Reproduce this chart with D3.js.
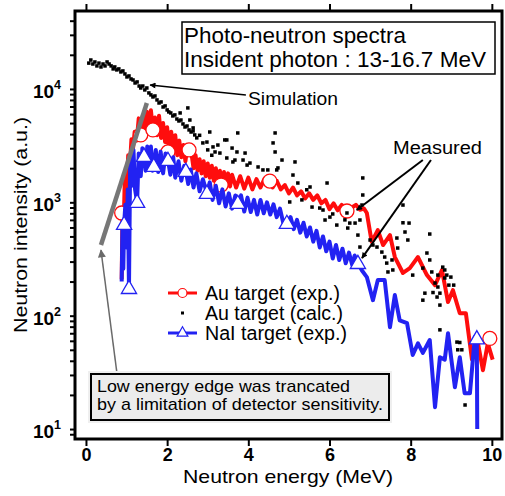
<!DOCTYPE html>
<html>
<head>
<meta charset="utf-8">
<script src="https://cdn.jsdelivr.net/npm/d3@7"></script>
<style>
  body { margin: 0; background: #fff; }
  svg { font-family: "Liberation Sans", Arial, Helvetica, sans-serif; }
</style>
</head>
<body>
<div id="chart"></div>
<script>
// values (energy in MeV, intensity in a.u.)
var auExpE = [0.88, 0.90, 0.93, 0.96, 1.00, 1.04, 1.08, 1.12, 1.16, 1.20, 1.25, 1.30, 1.35, 1.40, 1.45, 1.50, 1.55, 1.60, 1.65, 1.70,
  1.75, 1.80, 1.85, 1.90, 1.95, 2.00, 2.05, 2.10, 2.15, 2.20, 2.25, 2.30, 2.35, 2.40, 2.45, 2.50, 2.55, 2.60, 2.65, 2.70,
  2.75, 2.80, 2.85, 2.90, 2.95, 3.00, 3.05, 3.10, 3.15, 3.20, 3.25, 3.30, 3.35, 3.40, 3.45, 3.50, 3.55, 3.60, 3.70, 3.80,
  3.90, 4.00, 4.10, 4.20, 4.30, 4.40, 4.53, 4.60, 4.70, 4.80, 4.90, 5.00, 5.10, 5.20, 5.30, 5.40, 5.50, 5.60, 5.70, 5.80,
  5.90, 6.00, 6.10, 6.20, 6.30, 6.43, 6.55, 6.65, 6.75, 6.85, 6.92, 7.04, 7.19, 7.32, 7.49, 7.61, 7.81, 7.98, 8.18, 8.40,
  8.60, 8.77, 8.92, 9.04, 9.21, 9.36, 9.51, 9.63, 9.78, 9.90, 10.02];
var auExpV = [210, 800, 650, 1800, 1300, 2600, 2000, 3600, 3000, 4200, 3500, 5500, 3900, 5800, 4300, 6300, 4400, 6500, 4350, 5600,
  3900, 5800, 3700, 5000, 3400, 4600, 2800, 4200, 3000, 3900, 2600, 3500, 2500, 3200, 2300, 3100, 2900, 2700, 2000, 2600,
  1900, 2400, 1800, 2300, 1700, 2200, 1650, 2100, 1550, 2000, 1500, 1900, 1420, 1850, 1400, 1800, 1380, 1750, 1350, 1700,
  1320, 1650, 1300, 1600, 1350, 1620, 1540, 1350, 1550, 1300, 1420, 1200, 1350, 1150, 1250, 1080, 1200, 1050, 1150, 980,
  1050, 870, 980, 850, 950, 840, 900, 950, 860, 880, 805, 447, 569, 420, 514, 329, 238, 263, 329, 228,
  186, 253, 132, 168, 105, 105, 41, 65, 33, 57, 41];

var auMarkE = [0.88, 1.35, 1.65, 2.02, 2.54, 3.33, 4.53, 6.43, 9.95];
var auMarkV = [805, 3930, 4350, 2780, 2900, 1420, 1540, 838, 63];

var naiExpE = [0.88, 0.90, 0.92, 0.94, 0.97, 1.00, 1.03, 1.06, 1.09, 1.13, 1.17, 1.21, 1.26, 1.30, 1.35, 1.39, 1.43, 1.47, 1.51, 1.55,
  1.60, 1.64, 1.67, 1.72, 1.78, 1.84, 1.90, 1.96, 2.02, 2.08, 2.15, 2.20, 2.28, 2.35, 2.42, 2.46, 2.52, 2.58, 2.65, 2.72,
  2.80, 2.88, 2.98, 3.05, 3.12, 3.20, 3.28, 3.36, 3.44, 3.52, 3.60, 3.68, 3.74, 3.82, 3.90, 3.98, 4.06, 4.14, 4.22, 4.30,
  4.38, 4.46, 4.54, 4.62, 4.70, 4.78, 4.86, 4.95, 5.04, 5.12, 5.20, 5.28, 5.36, 5.44, 5.52, 5.60, 5.68, 5.76, 5.84, 5.92,
  6.00, 6.08, 6.16, 6.24, 6.32, 6.40, 6.48, 6.56, 6.62, 6.70, 6.80, 6.92, 7.07, 7.19, 7.36, 7.49, 7.61, 7.73, 7.91, 8.05,
  8.18, 8.30, 8.47, 8.60, 8.72, 8.84, 8.92, 9.09, 9.21, 9.33, 9.46, 9.58, 9.63, 9.64];
var naiExpV = [200, 640, 260, 643, 950, 400, 1300, 175, 2500, 1400, 2900, 1300, 1000, 2700, 1700, 3000, 2565, 1900, 3100, 2000,
  3100, 1900, 2090, 2900, 1850, 2800, 1800, 2700, 2360, 1750, 2500, 1650, 2300, 1550, 2100, 1890, 1450, 1950, 1350, 1800,
  1250, 1600, 1208, 1500, 1050, 1400, 980, 1300, 920, 1200, 880, 1150, 986, 1150, 830, 1100, 820, 1050, 780, 1050,
  800, 1000, 780, 960, 740, 880, 660, 656, 740, 580, 700, 540, 660, 500, 600, 450, 560, 400, 500, 370,
  450, 320, 420, 310, 390, 290, 360, 280, 340, 291, 250, 219, 137, 206, 206, 79, 152, 91, 86, 45,
  57, 47, 61, 15.6, 43, 41, 70, 23.4, 43, 20.7, 20.7, 65, 63, 10];

var naiMarkE = [0.94, 1.06, 1.26, 1.43, 1.67, 2.02, 2.46, 2.98, 3.74, 4.95, 6.70, 9.63];
var naiMarkV = [643, 175, 1007, 2565, 2090, 2360, 1890, 1208, 986, 656, 291, 63];

var auCalcE = [0.07, 0.12, 0.17, 0.22, 0.27, 0.32, 0.37, 0.42, 0.47, 0.52, 0.57, 0.62, 0.67, 0.71, 0.76, 0.81, 0.86, 0.91, 0.96, 1.01,
  1.06, 1.11, 1.16, 1.21, 1.26, 1.31, 1.35, 1.40, 1.45, 1.50, 1.55, 1.60, 1.65, 1.70, 1.75, 1.80, 1.85, 1.90, 1.95, 2.00,
  2.04, 2.09, 2.14, 2.19, 2.24, 2.29, 2.34, 2.39, 2.44, 2.49, 2.54, 2.59, 2.64, 2.68, 2.73, 2.88, 2.98, 3.00, 3.13, 3.18,
  3.30, 3.42, 3.47, 3.60, 3.62, 3.67, 3.72, 3.87, 3.92, 3.97, 4.04, 4.24, 4.36, 4.48, 4.70, 4.73, 4.83, 5.10, 5.15, 5.22,
  5.44, 5.52, 5.94, 5.02, 5.32, 5.57, 5.76, 5.84, 5.89, 6.01, 6.08, 6.18, 6.38, 6.43, 6.45, 6.50, 6.63, 6.70, 6.75, 6.75,
  6.80, 6.82, 6.82, 7.00, 7.07, 7.17, 7.29, 7.36, 7.41, 7.44, 7.54, 7.56, 7.66, 7.68, 7.81, 7.81, 7.86, 7.93, 7.96, 8.05,
  8.30, 8.30, 8.35, 8.40, 8.47, 8.47, 8.52, 8.55, 8.60, 8.65, 8.67, 8.67, 8.72, 8.72, 8.72, 8.79, 8.84, 8.84, 8.89, 8.94,
  8.99, 9.06, 9.14, 9.16, 9.21, 9.26, 9.34, 2.51, 3.05, 3.74, 4.66, 4.61, 4.66, 3.47, 2.56, 2.64, 2.32, 2.80, 3.10, 3.25];
var auCalcV = [16900, 18000, 16600, 17300, 15960, 16900, 15630, 16600, 15960, 17300, 16600, 15960, 15020, 15630, 14720, 15020, 14130, 14420, 13560, 12760,
  13020, 12250, 12000, 11290, 11530, 10610, 10200, 10610, 9800, 10200, 9220, 8860, 8500, 8670, 8000, 7520, 7680, 6930, 7080, 6530,
  6270, 6140, 5780, 5900, 5430, 5220, 5320, 4910, 4620, 4710, 4350, 4170, 4260, 3930, 3700, 3340, 3400, 2900, 3080, 2780,
  2720, 3550, 2460, 3010, 2270, 2360, 2780, 2360, 2720, 2130, 2220, 2050, 1930, 1930, 1930, 2010, 2360, 1740, 2270, 1480,
  1290, 1365, 1480, 1007, 1050, 908, 890, 855, 698, 741, 789, 630, 700, 805, 593, 656, 656, 514, 403, 698,
  946, 1640, 1160, 465, 420, 403, 364, 329, 291, 243, 310, 253, 484, 395, 946, 660, 547, 465, 656, 228,
  263, 137, 158, 357, 525, 310, 243, 160, 194, 146, 228, 179, 158, 124, 75, 268, 253, 215, 228, 186,
  219, 186, 58.5, 50, 58, 50, 16.3, 6800, 4170, 4090, 4090, 3340, 2780, 3550, 5320, 4530, 6140, 3900, 2600, 3200];

var xTicks = [0, 2, 4, 6, 8, 10];
var yDecades = [1, 2, 3, 4];
var legendLabels = ["Au target (exp.)", "Au target (calc.)", "NaI target (exp.)"];
var infoLines = ["Photo-neutron spectra", "Insident photon : 13-16.7 MeV"];
var noteLines = ["Low energy edge was trancated", "by a limitation of detector sensitivity."];

var W = 505, H = 496;
var margin = {top: 11, right: 3, bottom: 57, left: 75},
    width = W - margin.left - margin.right,
    height = H - margin.top - margin.bottom;

var red = "#ff0d0d", blue = "#2222f2";

var svg = d3.select("#chart").append("svg")
    .attr("width", W)
    .attr("height", H);

var g = svg.append("g")
    .attr("transform", "translate(" + margin.left + "," + margin.top + ")");

var x = d3.scaleLinear().domain([-0.27, 10.25]).range([0, width]);
var y = d3.scaleLog().domain([8.17, 48700]).range([height, 0]);

function pts(es, vs) {
    return es.map(function(e, i) { return [e, vs[i]]; });
}

var line = d3.line()
    .x(function(d) { return x(d[0]); })
    .y(function(d) { return y(d[1]); });

// text squeezed/stretched to the width it has in the picture
function fit(sel, len) {
    sel.attr("textLength", len).attr("lengthAdjust", "spacingAndGlyphs");
    return sel;
}

// axes
var minor = [];
[1, 10, 100, 1000, 10000].forEach(function(b) {
    for (var k = 1; k < 10; k++) {
        var v = b * k;
        if (v >= y.domain()[0] && v <= y.domain()[1]) minor.push(v);
    }
});

var yAxis = g.append("g")
    .call(d3.axisLeft(y).tickValues(minor).tickSize(5).tickFormat(""));
yAxis.select(".domain").remove();
yAxis.selectAll("line").attr("stroke-width", 2);

var xAxis = g.append("g")
    .attr("transform", "translate(0," + height + ")")
    .call(d3.axisBottom(x).tickValues(xTicks).tickSize(7).tickPadding(2));
xAxis.select(".domain").remove();
xAxis.selectAll("line").attr("stroke-width", 2);
xAxis.selectAll("text")
    .attr("font-size", 18)
    .attr("font-weight", "bold")
    .attr("fill", "#000");

var xTop = g.append("g")
    .call(d3.axisTop(x).tickValues(xTicks).tickSize(7).tickFormat(""));
xTop.select(".domain").remove();
xTop.selectAll("line").attr("stroke-width", 2);

var yLab = g.append("g").selectAll("text")
    .data(yDecades)
    .enter().append("text")
    .attr("x", -14)
    .attr("y", function(d) { return y(Math.pow(10, d)) + 9; })
    .attr("text-anchor", "end")
    .attr("font-size", 19)
    .attr("font-weight", "bold");
yLab.append("tspan").text("10");
yLab.append("tspan")
    .attr("dy", -9)
    .attr("font-size", 12.5)
    .text(function(d) { return d; });

fit(g.append("text")
    .attr("x", 108)
    .attr("y", height + 44)
    .attr("font-size", 19)
    .text("Neutron energy (MeV)"), 210);

fit(g.append("text")
    .attr("transform", "translate(-48," + (height / 2 + 108) + ") rotate(-90)")
    .attr("font-size", 19)
    .text("Neutron intensity (a.u.)"), 216);

// series
g.append("path")
    .datum(pts(auExpE, auExpV))
    .attr("d", line)
    .attr("fill", "none")
    .attr("stroke", red)
    .attr("stroke-width", 4)
    .attr("stroke-linejoin", "round");

g.selectAll("circle.au")
    .data(pts(auMarkE, auMarkV))
    .enter().append("circle")
    .attr("class", "au")
    .attr("cx", function(d) { return x(d[0]); })
    .attr("cy", function(d) { return y(d[1]); })
    .attr("r", 7)
    .attr("fill", "#fff")
    .attr("stroke", red)
    .attr("stroke-width", 1.3);

g.append("path")
    .datum(pts(naiExpE, naiExpV))
    .attr("d", line)
    .attr("fill", "none")
    .attr("stroke", blue)
    .attr("stroke-width", 4)
    .attr("stroke-linejoin", "round");

var tri = d3.symbol().type(d3.symbolTriangle).size(100);

g.selectAll("path.nai")
    .data(pts(naiMarkE, naiMarkV))
    .enter().append("path")
    .attr("class", "nai")
    .attr("d", tri)
    .attr("transform", function(d) { return "translate(" + x(d[0]) + "," + (y(d[1]) + 1) + ")"; })
    .attr("fill", "#fff")
    .attr("stroke", blue)
    .attr("stroke-width", 1.3);

g.selectAll("rect.calc")
    .data(pts(auCalcE, auCalcV))
    .enter().append("rect")
    .attr("class", "calc")
    .attr("x", function(d) { return x(d[0]) - 1.75; })
    .attr("y", function(d) { return y(d[1]) - 1.75; })
    .attr("width", 3.5)
    .attr("height", 3.5)
    .attr("fill", "#000");

// frame
g.append("rect")
    .attr("width", width)
    .attr("height", height)
    .attr("fill", "none")
    .attr("stroke", "#000")
    .attr("stroke-width", 3);

// annotations
var defs = svg.append("defs");
function head(id, color, w, h) {
    defs.append("marker")
        .attr("id", id)
        .attr("viewBox", "0 0 10 10")
        .attr("refX", 9).attr("refY", 5)
        .attr("markerUnits", "userSpaceOnUse")
        .attr("markerWidth", w).attr("markerHeight", h)
        .attr("orient", "auto")
        .append("path")
        .attr("d", "M0,0L10,5L0,10z")
        .attr("fill", color);
}
head("ahBlack", "#000", 9, 6);
head("ahGray", "#6a6a6a", 14, 8);

function arrow(e0, v0, e1, v1, color, sw, mk) {
    g.append("line")
        .attr("x1", x(e0)).attr("y1", y(v0))
        .attr("x2", x(e1)).attr("y2", y(v1))
        .attr("stroke", color)
        .attr("stroke-width", sw)
        .attr("marker-end", mk ? "url(#" + mk + ")" : null);
}

// Simulation
arrow(3.94, 8860, 1.58, 10840, "#000", 1.5, "ahBlack");
fit(g.append("text").attr("x", 173).attr("y", 94).attr("font-size", 18).text("Simulation"), 90);

// Measured
arrow(8.30, 2360, 6.67, 855, "#000", 2, "ahBlack");
arrow(8.50, 2360, 6.80, 322, "#000", 2, "ahBlack");
fit(g.append("text").attr("x", 318).attr("y", 143).attr("font-size", 18).text("Measured"), 89);

// gray edge line and note
arrow(1.50, 7520, 0.37, 420, "#777", 4.5, null);
arrow(0.76, 31.8, 0.37, 379, "#6a6a6a", 1.5, "ahGray");

g.append("rect")
    .attr("x", 13).attr("y", 360)
    .attr("width", 304).attr("height", 52)
    .attr("fill", "#efefef");
g.append("rect")
    .attr("x", 16).attr("y", 363)
    .attr("width", 298).attr("height", 46)
    .attr("fill", "#ececec")
    .attr("stroke", "#000")
    .attr("stroke-width", 2);
var noteLen = [253, 286];
g.selectAll("text.note")
    .data(noteLines)
    .enter().append("text")
    .attr("class", "note")
    .attr("x", 22)
    .attr("y", function(d, i) { return 381 + i * 18; })
    .attr("font-size", 17)
    .attr("textLength", function(d, i) { return noteLen[i]; })
    .attr("lengthAdjust", "spacingAndGlyphs")
    .text(function(d) { return d; });

// info box
g.append("rect")
    .attr("x", 107).attr("y", 11)
    .attr("width", 313).attr("height", 52)
    .attr("fill", "#fff")
    .attr("stroke", "#000")
    .attr("stroke-width", 1.5);
var infoLen = [222, 302];
g.selectAll("text.info")
    .data(infoLines)
    .enter().append("text")
    .attr("class", "info")
    .attr("x", 109)
    .attr("y", function(d, i) { return 32 + i * 24; })
    .attr("font-size", 22)
    .attr("textLength", function(d, i) { return infoLen[i]; })
    .attr("lengthAdjust", "spacingAndGlyphs")
    .text(function(d) { return d; });

// legend
var legLen = [135, 138, 142];
var leg = g.append("g").attr("transform", "translate(93,282)");
var rows = leg.selectAll("g")
    .data(legendLabels)
    .enter().append("g")
    .attr("transform", function(d, i) { return "translate(0," + i * 20 + ")"; });
rows.append("text")
    .attr("x", 37)
    .attr("y", 7)
    .attr("font-size", 19.5)
    .attr("textLength", function(d, i) { return legLen[i]; })
    .attr("lengthAdjust", "spacingAndGlyphs")
    .text(function(d) { return d; });
leg.append("line").attr("x1", 0).attr("x2", 29).attr("stroke", red).attr("stroke-width", 3);
leg.append("circle").attr("cx", 14.5).attr("cy", 0).attr("r", 4.5)
    .attr("fill", "#fff").attr("stroke", red).attr("stroke-width", 1.2);
leg.append("rect").attr("x", 13).attr("y", 18.5).attr("width", 3).attr("height", 3).attr("fill", "#000");
leg.append("line").attr("x1", 0).attr("x2", 29).attr("y1", 40).attr("y2", 40)
    .attr("stroke", blue).attr("stroke-width", 3);
leg.append("path").attr("d", d3.symbol().type(d3.symbolTriangle).size(50))
    .attr("transform", "translate(14.5,40)")
    .attr("fill", "#fff").attr("stroke", blue).attr("stroke-width", 1.2);
</script>
</body>
</html>
